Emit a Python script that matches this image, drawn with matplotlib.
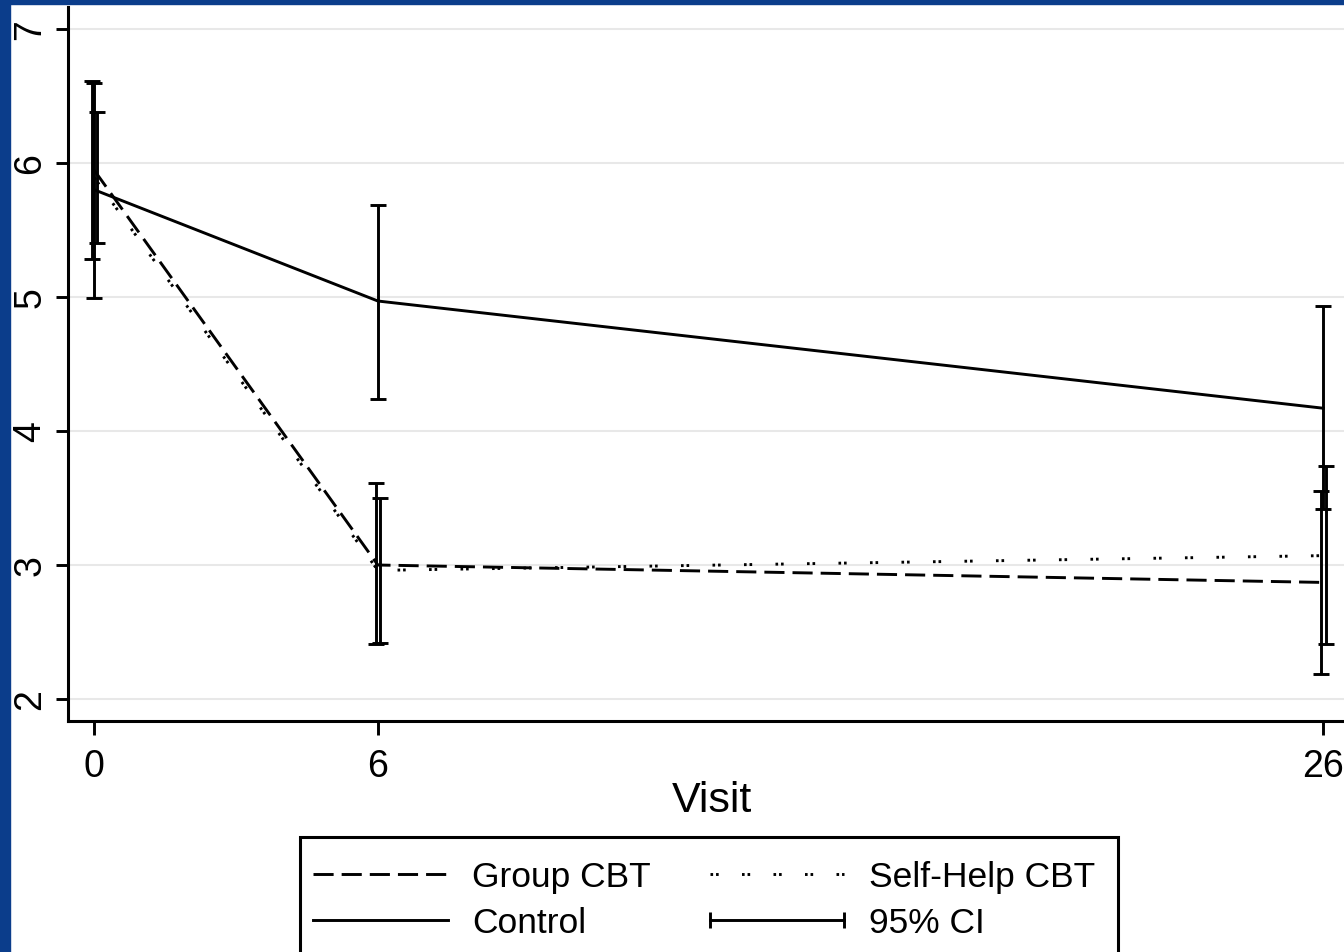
import matplotlib
matplotlib.use("Agg")
import matplotlib.pyplot as plt
from matplotlib.lines import Line2D
from matplotlib.legend_handler import HandlerLine2D
from matplotlib.patches import Rectangle

plt.rcParams['font.family'] = ['Liberation Sans', 'DejaVu Sans']

# Data (mean and 95% CI per visit)
visits = [0, 6, 26]

group_mean = [5.945, 3.00, 2.87]
group_lo = [5.28, 2.41, 2.19]
group_hi = [6.61, 3.61, 3.55]

selfhelp_mean = [5.89, 2.96, 3.07]
selfhelp_lo = [5.40, 2.42, 2.41]
selfhelp_hi = [6.38, 3.50, 3.74]

control_mean = [5.80, 4.97, 4.17]
control_lo = [4.99, 4.24, 3.42]
control_hi = [6.60, 5.69, 4.93]

y_ticks = [2, 3, 4, 5, 6, 7]
labels = ['Group CBT', 'Control', 'Self-Help CBT', '95% CI']

# pixel layout of the reference
W, H = 1344, 953
blue = '#0b3d8b'
lw = 2.1
dodge = 0.05

fig = plt.figure(figsize=(W / 100, H / 100), dpi=100)
fig.patch.set_facecolor('white')
# blue page border on the left and top
fig.add_artist(Rectangle((0, 0), 10 / W, 1, transform=fig.transFigure, color=blue, zorder=-5))
fig.add_artist(Rectangle((0, 1 - 5 / H), 1, 5 / H, transform=fig.transFigure, color=blue, zorder=-5))

ax = fig.add_axes([67.5 / W, (H - 722) / H, 1 - 67.5 / W, (722 - 8) / H])

def ci(x, m, lo, hi, dx=0.0):
    xs = [v + dx for v in x]
    err = [[a - b for a, b in zip(m, lo)], [b - a for a, b in zip(m, hi)]]
    ax.errorbar(xs, m, yerr=err, fmt='none', ecolor='k', elinewidth=2.1,
                capsize=5.5, capthick=2.1, zorder=3)

ci(visits, control_mean, control_lo, control_hi)
ci(visits, group_mean, group_lo, group_hi, -dodge)
ci(visits, selfhelp_mean, selfhelp_lo, selfhelp_hi, dodge)

l_group, = ax.plot(visits, group_mean, color='k', lw=lw, dashes=(6.9, 2.75), zorder=4)
l_self, = ax.plot(visits, selfhelp_mean, color='k', lw=lw, dashes=(0.9, 1.0, 0.9, 8.0), zorder=4)
l_control, = ax.plot(visits, control_mean, color='k', lw=lw, zorder=4)

ax.set_xlim(-0.567, 26.44)
ax.set_ylim(1.836, 7.164)
ax.set_xticks(visits)
ax.set_yticks(y_ticks)
ax.set_yticklabels([str(v) for v in y_ticks], rotation=90, va='center')
ax.tick_params(axis='y', length=8.6, width=2.1, pad=5, labelsize=27)
ax.tick_params(axis='x', length=10, width=2.1, pad=9.5, labelsize=27)

for s in ('top', 'right'):
    ax.spines[s].set_visible(False)
for s in ('left', 'bottom'):
    ax.spines[s].set_linewidth(2.2)

ax.yaxis.grid(True, color='#e8e8e8', lw=1.5)
ax.set_axisbelow(True)

ax.set_xlabel('Visit', fontsize=31)
ax.xaxis.set_label_coords(0.505, -0.082)

# legend: box drawn by hand so it runs off the bottom edge like the original
ci_handle = Line2D([], [], color='k', lw=lw, marker='|', markersize=11, markeredgewidth=2.1)
leg = ax.legend([l_group, l_control, l_self, ci_handle], labels, ncol=2,
                loc='upper left', bbox_to_anchor=(313 / W, (H - 861) / H),
                bbox_transform=fig.transFigure, frameon=False,
                borderpad=0, borderaxespad=0, fontsize=25.5,
                handlelength=3.8, handletextpad=0.7, columnspacing=1.65,
                labelspacing=0.38,
                handler_map={ci_handle: HandlerLine2D(numpoints=2, marker_pad=0)})
fig.add_artist(Rectangle((300 / W, -0.05), 818 / W, (H - 838) / H + 0.05,
                         transform=fig.transFigure, fill=False, edgecolor='k', lw=2.2))

fig.savefig('out.png', dpi=100)
